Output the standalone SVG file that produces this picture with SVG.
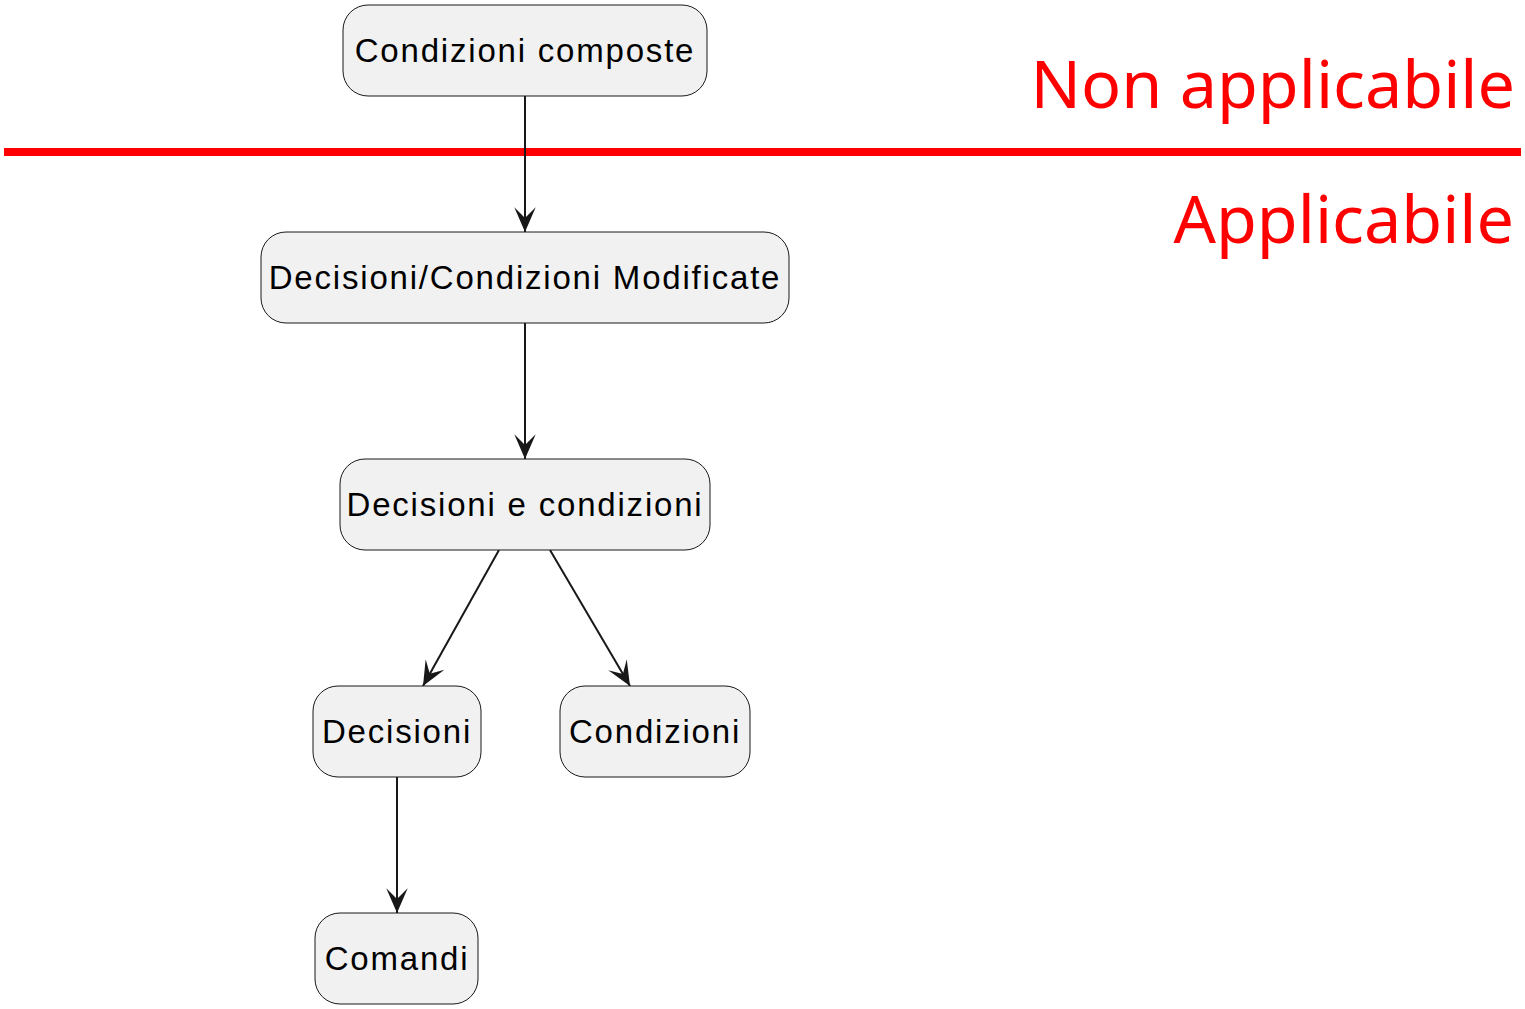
<svg xmlns="http://www.w3.org/2000/svg" width="1525" height="1009" viewBox="0 0 1525 1009">
<style>
.node rect{fill:#F1F1F1;stroke:#181818;stroke-width:1}
.node text{font-family:"Liberation Sans",Arial,sans-serif;font-size:33px;letter-spacing:1.8px;fill:#000;text-anchor:middle}
.edge{stroke:#181818;stroke-width:2;fill:none;marker-end:url(#arr)}
.zone{font-family:"Noto Sans","Open Sans",sans-serif;font-size:66.5px;fill:#FF0000;text-anchor:end}
</style>
<defs>
<marker id="arr" markerUnits="userSpaceOnUse" markerWidth="30" markerHeight="30" viewBox="-26 -13 28 26" refX="0" refY="0" orient="auto">
<path d="M0,0 L-23,-10 L-13,0 L-23,10 Z" fill="#181818"/>
</marker>
</defs>
<rect width="1525" height="1009" fill="#FFFFFF"/>
<g id="zones">
<line x1="4" y1="152" x2="1521" y2="152" stroke="#FF0000" stroke-width="8"/>
<text class="zone" x="1515" y="108">Non applicabile</text>
<text class="zone" x="1514" y="243">Applicabile</text>
</g>
<g id="connectors">
<line class="edge" x1="525" y1="96" x2="525" y2="232"/>
<line class="edge" x1="525" y1="323" x2="525" y2="459"/>
<line class="edge" x1="499" y1="550" x2="423" y2="686"/>
<line class="edge" x1="550" y1="550" x2="630" y2="686"/>
<line class="edge" x1="397" y1="777" x2="397" y2="913"/>
</g>
<g id="n1" class="node"><rect x="343" y="5" width="364" height="91" rx="25"/><text x="525" y="62">Condizioni composte</text></g>
<g id="n2" class="node"><rect x="261" y="232" width="528" height="91" rx="25"/><text x="525" y="289">Decisioni/Condizioni Modificate</text></g>
<g id="n3" class="node"><rect x="340" y="459" width="370" height="91" rx="25"/><text x="525" y="516">Decisioni e condizioni</text></g>
<g id="n4" class="node"><rect x="313" y="686" width="168" height="91" rx="25"/><text x="397" y="743">Decisioni</text></g>
<g id="n5" class="node"><rect x="560" y="686" width="190" height="91" rx="25"/><text x="655" y="743">Condizioni</text></g>
<g id="n6" class="node"><rect x="315" y="913" width="163" height="91" rx="25"/><text x="397" y="970">Comandi</text></g>
</svg>
